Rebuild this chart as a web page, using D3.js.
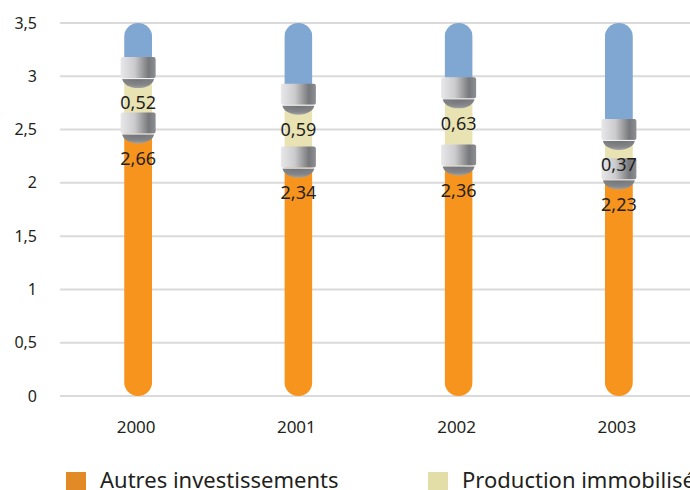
<!DOCTYPE html>
<html>
<head>
<meta charset="utf-8">
<script src="https://cdn.jsdelivr.net/npm/d3@7"></script>
<style>
  html, body { margin: 0; padding: 0; background: #fff; overflow: hidden; }
  svg { display: block; }
  text { font-family: "Noto Sans", "Open Sans", sans-serif; fill: #231F20; }
</style>
</head>
<body>
<script>
// Investissements par année (milliards)
const years = ["2000", "2001", "2002", "2003"];
const autres = [2.66, 2.34, 2.36, 2.23];          // Autres investissements
const production = [0.52, 0.59, 0.63, 0.37];      // Production immobilisée
const reste = [0.32, 0.57, 0.51, 0.90];           // segment supérieur (bleu)
const yTicks = [0, 0.5, 1, 1.5, 2, 2.5, 3, 3.5];
const legendItems = ["Autres investissements", "Production immobilisée"];

const W = 760, H = 490;
const svg = d3.select("body").append("svg").attr("width", W).attr("height", H);

const x = d3.scaleBand().domain(years).range([58, 699]);
const y = d3.scaleLinear().domain([0, 3.5]).range([396, 23]);
const fmt = v => String(v).replace(".", ",");

const colors = { autres: "#F7941E", production: "#E9E3B3", reste: "#80A7D2" };

// Gradients for the grey connectors
const defs = svg.append("defs");
const gBand = defs.append("linearGradient").attr("id", "band").attr("x1", 0).attr("x2", 1).attr("y1", 0).attr("y2", 0);
[["0%", "#E8E8EA"], ["40%", "#CBCBCD"], ["80%", "#77787B"], ["100%", "#8E8F92"]]
  .forEach(([o, c]) => gBand.append("stop").attr("offset", o).attr("stop-color", c));
const gCap = defs.append("radialGradient").attr("id", "cap").attr("cx", "50%").attr("cy", "0%").attr("r", "100%");
[["0%", "#6F7073"], ["70%", "#858689"], ["100%", "#A3A3A5"]]
  .forEach(([o, c]) => gCap.append("stop").attr("offset", o).attr("stop-color", c));

// Grid lines
svg.append("g").selectAll("line").data(yTicks).join("line")
  .attr("x1", 60).attr("x2", W).attr("y1", d => y(d)).attr("y2", d => y(d))
  .attr("stroke", "#DADADA").attr("stroke-width", 2);

// Y axis labels
const yAxis = svg.append("g").attr("transform", "translate(37,0)")
  .call(d3.axisLeft(y).tickValues(yTicks).tickSize(0).tickPadding(0).tickFormat(fmt));
yAxis.select(".domain").remove();
yAxis.attr("font-size", 16).attr("font-family", "'Noto Sans', sans-serif");
yAxis.selectAll("text").attr("fill", "#231F20");

// X axis labels
const xAxis = svg.append("g").attr("transform", "translate(-2,427)")
  .call(d3.axisBottom(x).tickSize(0).tickPadding(0));
xAxis.select(".domain").remove();
xAxis.attr("font-size", 17).attr("font-family", "'Noto Sans', sans-serif");
xAxis.selectAll("text").attr("fill", "#231F20").attr("y", 0).attr("dy", "0.35em");

const barW = 28, bandW = 35, bandH = 21;

const rows = years.map((yr, i) => ({
  yr,
  segs: [
    { key: "autres", y0: 0, y1: autres[i] },
    { key: "production", y0: autres[i], y1: autres[i] + production[i] },
    { key: "reste", y0: autres[i] + production[i], y1: autres[i] + production[i] + reste[i] }
  ]
}));

const bars = svg.append("g").selectAll("g").data(rows).join("g")
  .attr("transform", d => `translate(${x(d.yr) + x.bandwidth() / 2},0)`);

// Capsule clip per bar
bars.each(function (d, i) {
  const top = d.segs[2].y1;
  defs.append("clipPath").attr("id", "clip" + i).append("rect")
    .attr("x", -barW / 2).attr("width", barW)
    .attr("y", y(top)).attr("height", y(0) - y(top))
    .attr("rx", barW / 2).attr("ry", barW / 2);
  const g = d3.select(this);
  g.append("g").attr("clip-path", `url(#clip${i})`)
    .selectAll("rect").data(d.segs).join("rect")
    .attr("x", -barW / 2).attr("width", barW)
    .attr("y", s => y(s.y1)).attr("height", s => y(s.y0) - y(s.y1) + 0.5)
    .attr("fill", s => colors[s.key]);
});

// Grey connectors at segment joins
bars.each(function (d) {
  const g = d3.select(this);
  [d.segs[0].y1, d.segs[1].y1].forEach(v => {
    const yy = y(v);
    g.append("path")
      .attr("d", `M${-bandW / 2 + 1.5},${yy + bandH} A${bandW / 2 - 1.5},10 0 0 0 ${bandW / 2 - 1.5},${yy + bandH} Z`)
      .attr("fill", "url(#cap)");
    g.append("rect").attr("x", -bandW / 2).attr("y", yy).attr("width", bandW).attr("height", bandH)
      .attr("rx", 2).attr("fill", "url(#band)");
    g.append("line").attr("x1", -bandW / 2 + 1).attr("x2", bandW / 2 - 1)
      .attr("y1", yy + bandH + 0.5).attr("y2", yy + bandH + 0.5)
      .attr("stroke", "#fff").attr("stroke-width", 1);
  });
});

// Value labels
bars.each(function (d) {
  const g = d3.select(this);
  d.segs.slice(0, 2).forEach(s => {
    g.append("text").attr("text-anchor", "middle")
      .attr("y", y(s.y1) + 46).attr("dy", "0.35em")
      .attr("font-size", 18).text(fmt(Math.round((s.y1 - s.y0) * 100) / 100));
  });
});

// Legend
const legendColors = ["#E28B26", "#E3DDA8"];
const legendX = [66, 428];
const lg = svg.append("g").selectAll("g").data(legendItems).join("g")
  .attr("transform", (d, i) => `translate(${legendX[i]},472)`);
lg.append("rect").attr("width", 20).attr("height", 20).attr("fill", (d, i) => legendColors[i]);
lg.append("text").attr("x", 34).attr("y", 16).attr("font-size", 22).text(d => d);
</script>
</body>
</html>
